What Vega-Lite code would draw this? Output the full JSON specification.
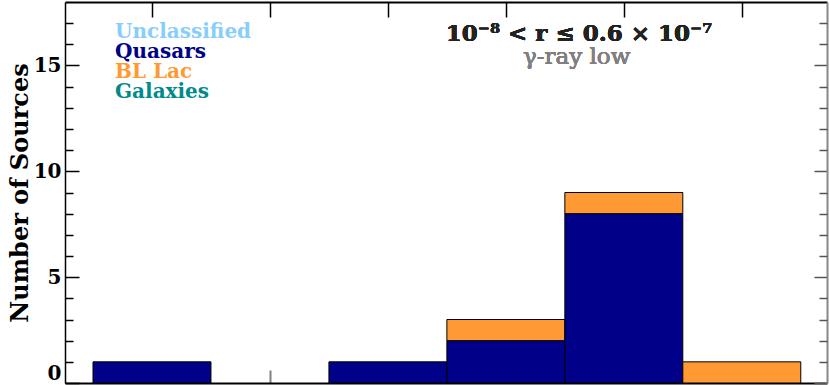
{
  "$schema": "https://vega.github.io/schema/vega-lite/v6.json",
  "autosize": "none",
  "width": 762,
  "height": 381,
  "padding": {"left": 65, "top": 2, "right": 3, "bottom": 2},
  "background": "white",
  "config": {
    "view": {"stroke": null},
    "font": "DejaVu Serif",
    "axis": {"grid": false, "labelFont": "DejaVu Serif", "labelFontWeight": "bold", "titleFont": "DejaVu Serif", "titleFontWeight": "bold"}
  },
  "data": {
    "values": [
      {"lo": 0.5, "hi": 1.5, "class": "Quasars", "count": 1},
      {"lo": 2.5, "hi": 3.5, "class": "Quasars", "count": 1},
      {"lo": 3.5, "hi": 4.5, "class": "Quasars", "count": 2},
      {"lo": 3.5, "hi": 4.5, "class": "BL Lac", "count": 1},
      {"lo": 4.5, "hi": 5.5, "class": "Quasars", "count": 8},
      {"lo": 4.5, "hi": 5.5, "class": "BL Lac", "count": 1},
      {"lo": 5.5, "hi": 6.5, "class": "BL Lac", "count": 1}
    ]
  },
  "transform": [
    {"stack": "count", "groupby": ["lo"], "sort": [{"field": "class", "order": "descending"}], "as": ["y0", "y1"]}
  ],
  "layer": [
    {
      "mark": {"type": "bar", "stroke": "#000000", "strokeWidth": 1, "orient": "vertical"},
      "encoding": {
        "x": {"field": "lo", "type": "quantitative",
              "scale": {"domain": [0.305, 6.68], "nice": false, "zero": false},
              "axis": {"orient": "bottom", "values": [1, 2, 3, 4, 5, 6], "labels": false, "title": null,
                       "tickSize": -13, "tickWidth": 2, "tickColor": "#808080", "domainColor": "#000000", "domainWidth": 2}},
        "x2": {"field": "hi"},
        "y": {"field": "y1", "type": "quantitative",
              "scale": {"domain": [0, 18], "nice": false},
              "axis": {"orient": "left", "values": [0, 5, 10, 15], "tickSize": -14, "tickWidth": 1.5, "tickColor": "#000000",
                       "domainColor": "#000000", "domainWidth": 1.5, "labelFontSize": 20, "labelColor": "#000000",
                       "labelPadding": 18,
                       "labelBaseline": {"condition": {"test": "datum.value == 0", "value": "bottom"}, "value": "middle"},
                       "title": "Number of Sources", "titleFontSize": 24, "titleColor": "#000000", "titlePadding": 1}},
        "y2": {"field": "y0"},
        "color": {"field": "class", "type": "nominal",
                  "scale": {"domain": ["Unclassified", "Quasars", "BL Lac", "Galaxies"],
                            "range": ["#87CEFA", "#000088", "#FF9933", "#008B8B"]},
                  "legend": {"orient": "none", "legendX": 30, "legendY": 20, "title": null,
                             "symbolSize": 0, "symbolOpacity": 0, "symbolStrokeWidth": 0, "labelOffset": 0,
                             "labelFont": "DejaVu Serif", "labelFontWeight": "bold", "labelFontSize": 20,
                             "rowPadding": 0, "padding": 0,
                             "labelColor": {"expr": "scale('color', datum.value)"}}}
      }
    },
    {
      "mark": {"type": "point", "opacity": 0},
      "encoding": {
        "x": {"field": "lo", "type": "quantitative",
              "axis": {"orient": "top", "values": [1, 2, 3, 4, 5, 6], "labels": false, "title": null,
                       "tickSize": -15, "tickWidth": 1.5, "tickColor": "#000000", "domainColor": "#000000", "domainWidth": 2}},
        "y": {"field": "y1", "type": "quantitative",
              "axis": {"orient": "right", "values": [0, 5, 10, 15], "labels": false, "title": null,
                       "tickSize": -13, "tickWidth": 1.5, "tickColor": "#555555", "domainColor": "#888888", "domainWidth": 2}}
      }
    },
    {
      "mark": {"type": "point", "opacity": 0},
      "encoding": {
        "x": {"field": "lo", "type": "quantitative", "axis": null},
        "y": {"field": "y1", "type": "quantitative",
              "axis": {"orient": "left", "values": [1, 2, 3, 4, 6, 7, 8, 9, 11, 12, 13, 14, 16, 17], "labels": false, "title": null,
                       "domain": false, "tickSize": -8, "tickWidth": 1.5, "tickColor": "#000000"}}
      }
    },
    {
      "mark": {"type": "point", "opacity": 0},
      "encoding": {
        "x": {"field": "lo", "type": "quantitative", "axis": null},
        "y": {"field": "y1", "type": "quantitative",
              "axis": {"orient": "right", "values": [1, 2, 3, 4, 6, 7, 8, 9, 11, 12, 13, 14, 16, 17], "labels": false, "title": null,
                       "domain": false, "tickSize": -8, "tickWidth": 1.5, "tickColor": "#555555"}}
      }
    },
    {
      "mark": {"type": "text", "font": "DejaVu Serif", "fontWeight": "bold", "fontSize": 23, "color": "#222222", "align": "center", "baseline": "middle"},
      "encoding": {
        "x": {"datum": 4.62, "type": "quantitative", "axis": null},
        "y": {"datum": 16.5, "type": "quantitative", "axis": null},
        "text": {"value": "10⁻⁸ < r ≤ 0.6 × 10⁻⁷"}
      }
    },
    {
      "mark": {"type": "text", "font": "DejaVu Serif", "fontWeight": "normal", "fontSize": 23, "color": "#808080", "align": "center", "baseline": "middle"},
      "encoding": {
        "x": {"datum": 4.6, "type": "quantitative", "axis": null},
        "y": {"datum": 15.4, "type": "quantitative", "axis": null},
        "text": {"value": "γ-ray low"}
      }
    }
  ],
  "resolve": {"axis": {"x": "independent", "y": "independent"}}
}
